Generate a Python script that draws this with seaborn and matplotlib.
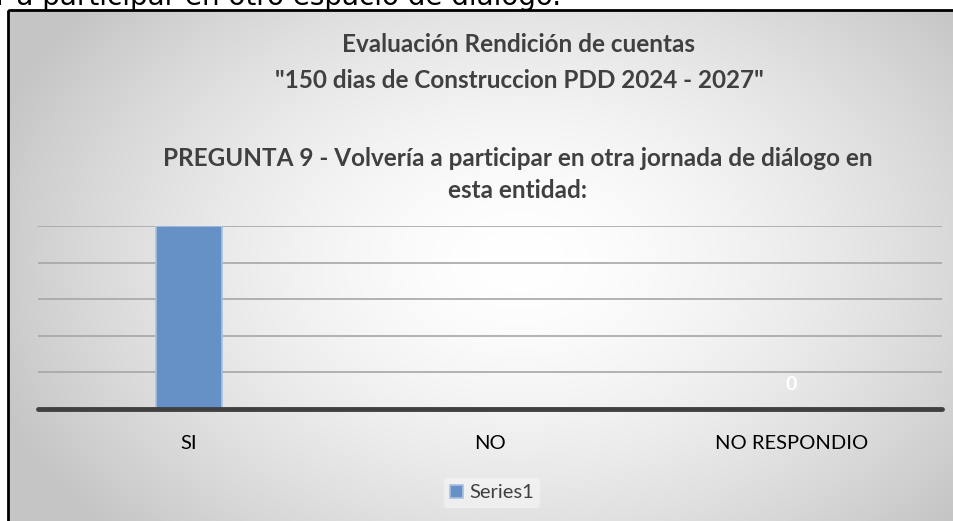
import numpy as np
import pandas as pd
import matplotlib.pyplot as plt
import seaborn as sns
from matplotlib.patches import Rectangle

# data
categories = ["SI", "NO", "NO RESPONDIO"]
values = [100, 0, 0]
series_name = "Series1"
label_shown = {"NO RESPONDIO": "0"}

title_lines = [
    "Evaluación Rendición de cuentas",
    "\"150 dias de Construccion PDD 2024 - 2027\"",
]
question_lines = [
    "PREGUNTA 9 - Volvería a participar en otra jornada de diálogo en",
    "esta entidad:",
]
page_text = "r a participar en otro espacio de diálogo."

W, H = 954, 521

sns.set_theme(style="white")
plt.rcParams["font.family"] = ["Lato", "DejaVu Sans"]

fig = plt.figure(figsize=(W / 100, H / 100), dpi=100)
fig.patch.set_facecolor("white")

# radial grey gradient for the chart area
bg = fig.add_axes([0, 0, 1, 1], zorder=-2)
yy, xx = np.mgrid[0:H, 0:W]
d = np.sqrt(((xx - 520) / 560.0) ** 2 + ((yy - 260) / 400.0) ** 2)
shade = 1 - (58 / 255.0) * np.clip(d, 0, 1) ** 1.6
img = np.dstack([shade, shade, shade])
img[:10, :, :] = 1
img[:, :8, :] = 1
bg.imshow(img, extent=[0, W, H, 0], aspect="auto", interpolation="bilinear")
bg.set_xlim(0, W)
bg.set_ylim(H, 0)
bg.axis("off")
bg.add_patch(Rectangle((8, 10), W + 10, H + 10, fill=False,
                       edgecolor="black", linewidth=2))

# text of the page behind the chart (cut at the top, as in the source)
fig.text(-4 / W, 1 - 5 / H, page_text, fontsize=20, color="black",
         family=["DejaVu Sans"], va="baseline", ha="left")

# titles
for txt, y in zip(title_lines, [45, 80]):
    fig.text(519 / W, 1 - y / H, txt, ha="center", va="center",
             fontsize=17.5, fontweight="bold", color="#404040")
for txt, y in zip(question_lines, [159, 191]):
    fig.text(518 / W, 1 - y / H, txt, ha="center", va="center",
             fontsize=17.5, fontweight="bold", color="#404040")

df = pd.DataFrame({"Categoria": categories, "Valor": values})

ax = fig.add_axes([38 / W, (H - 409) / H, 904 / W, 183 / H])
ax.patch.set_alpha(0)

sns.barplot(
    data=df,
    x="Categoria",
    y="Valor",
    color="#6591c7",
    width=0.22,
    edgecolor="#a9c1e2",
    linewidth=1.2,
    saturation=1,
    label=series_name,
    ax=ax,
    zorder=3
)

ax.set_ylim(0, 100)
ax.set_yticks(np.arange(0, 101, 20))
ax.set_yticklabels([])
ax.yaxis.grid(True, color="#a6a6a6", linewidth=1.2)
ax.set_axisbelow(True)
for s in ax.spines.values():
    s.set_visible(False)
ax.axhline(0, color="#404040", linewidth=3.5, zorder=4, clip_on=False)

ax.set_xlabel("")
ax.set_ylabel("")
ax.tick_params(axis="x", length=0, pad=19, labelsize=14.5, labelcolor="black")
ax.tick_params(axis="y", length=0)

for i, cat in enumerate(categories):
    if cat in label_shown:
        ax.annotate(label_shown[cat], (i, values[i]), xytext=(0, 18),
                    textcoords="offset points", ha="center", va="center",
                    color="white", fontsize=14, fontweight="bold")

leg = ax.legend(loc="center", bbox_to_anchor=(492 / W, 1 - 493 / H),
                bbox_transform=fig.transFigure, fontsize=14.5,
                handlelength=0.65, handleheight=0.65, handletextpad=0.3,
                frameon=True, borderpad=0.3)
leg.get_frame().set_facecolor("white")
leg.get_frame().set_alpha(0.4)
leg.get_frame().set_edgecolor("none")
for t in leg.get_texts():
    t.set_color("#404040")

fig.savefig("out.png", dpi=100)
